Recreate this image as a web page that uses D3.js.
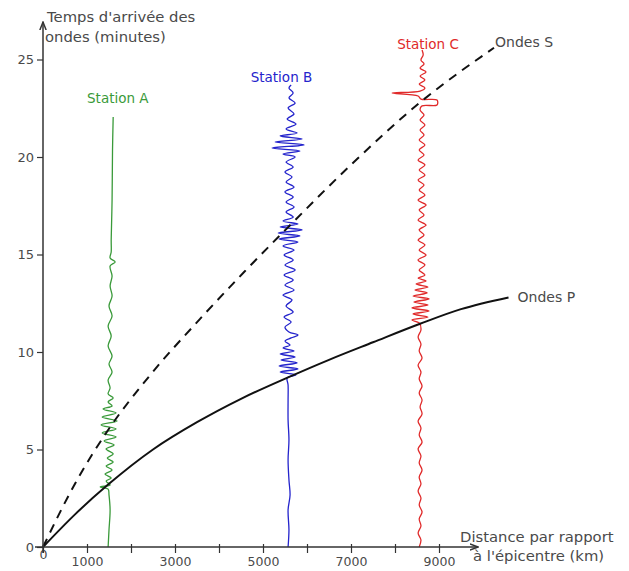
<!DOCTYPE html>
<html><head><meta charset="utf-8">
<script src="https://cdn.jsdelivr.net/npm/d3@7"></script>
<style>
body{margin:0;background:#fff;}
text{font-family:"DejaVu Sans",sans-serif;}
</style></head>
<body><svg id="c" width="629" height="571"></svg>
<script>
// ---- data ----
const yTicks = [0, 5, 10, 15, 20, 25];
const xTicks = [0, 1000, 2000, 3000, 4000, 5000, 6000, 7000, 8000, 9000];
const labelledX = [0, 1000, 3000, 5000, 7000, 9000];

// travel-time curves: [distance km, minutes]
const ondesP = [[0,0],[740,1.7],[1480,3.2],[2500,5.0],[3500,6.4],[4500,7.6],[5570,8.7],[6500,9.6],[7500,10.5],[8570,11.45],[9500,12.2],[10580,12.8]];
const ondesS = [[0,0],[740,3.3],[1480,6.0],[2430,8.8],[3570,11.7],[4570,14.1],[5570,16.4],[7000,19.6],[8570,22.8],[10250,25.6]];

const stations = ["Station A", "Station B", "Station C"];
const stationDist = [1480, 5570, 8570];

// seismograms: [minutes, offset km from station]
const traceA = [[0,0],[0.87,20],[1.9,45],[2.67,20],[2.97,0],[3.08,-180],[3.18,45],[3.38,-45],[3.54,70],[3.74,-70],[3.95,90],[4.15,-45],[4.36,115],[4.56,-20],[4.77,115],[5.03,-45],[5.23,135],[5.44,-90],[5.64,180],[5.85,-135],[6.05,180],[6.26,-160],[6.46,205],[6.67,-135],[6.87,180],[7.08,-115],[7.23,90],[7.44,0],[7.64,115],[7.85,0],[8.15,45],[8.56,0],[8.97,90],[9.38,20],[9.79,90],[10.31,0],[10.82,70],[11.33,0],[11.85,90],[12.36,20],[12.87,90],[13.38,45],[13.9,90],[14.41,45],[14.62,160],[14.82,45],[15.13,70],[15.74,70],[17.79,90],[20.36,100],[22.05,115]];
const traceB = [[0,0],[0.87,20],[1.9,0],[2.67,45],[3.44,20],[4.46,0],[5.49,20],[6.51,0],[7.54,0],[8.31,0],[8.67,-20],[8.82,180],[8.97,-180],[9.13,225],[9.28,-205],[9.44,205],[9.59,-160],[9.74,160],[9.9,-180],[10.05,135],[10.21,-115],[10.36,45],[10.56,-70],[10.72,70],[10.87,225],[11.03,20],[11.28,-70],[11.54,70],[11.79,-90],[12.05,115],[12.36,-45],[12.67,90],[12.92,-115],[13.18,135],[13.44,-70],[13.69,115],[13.95,-90],[14.21,160],[14.46,-70],[14.72,115],[14.97,-90],[15.23,135],[15.44,-115],[15.64,225],[15.79,-205],[15.95,270],[16.1,-225],[16.26,320],[16.41,-180],[16.56,225],[16.72,-115],[16.92,115],[17.18,-45],[17.44,135],[17.69,-45],[17.95,115],[18.21,-70],[18.46,135],[18.72,-45],[18.97,90],[19.23,-70],[19.49,115],[19.74,-45],[20.0,160],[20.15,-115],[20.31,270],[20.46,-365],[20.62,365],[20.77,-295],[20.92,320],[21.08,-180],[21.23,205],[21.44,-45],[21.69,180],[21.95,-20],[22.21,135],[22.51,0],[22.77,160],[23.03,20],[23.28,115],[23.54,20],[23.69,70]];
const traceC = [[0,-20],[0.36,20],[0.72,-45],[1.08,20],[1.44,-20],[1.79,45],[2.15,-20],[2.51,20],[2.87,-45],[3.23,20],[3.59,-20],[3.95,45],[4.31,-20],[4.67,20],[5.03,-45],[5.38,45],[5.74,-20],[6.1,20],[6.46,-45],[6.82,45],[7.18,0],[7.54,45],[7.9,-20],[8.26,45],[8.62,-20],[8.97,20],[9.33,-45],[9.69,45],[10.05,-20],[10.41,20],[10.77,-45],[11.13,20],[11.49,-20],[11.64,-185],[11.79,180],[11.95,-160],[12.1,205],[12.26,-185],[12.41,180],[12.56,-140],[12.72,205],[12.87,-160],[13.03,160],[13.18,-115],[13.33,180],[13.49,-90],[13.64,135],[13.79,-45],[13.95,110],[14.21,-20],[14.46,110],[14.72,-45],[14.97,135],[15.23,-20],[15.49,110],[15.74,-45],[16.0,90],[16.26,-20],[16.51,135],[16.77,-45],[17.03,90],[17.28,-20],[17.54,135],[17.79,-45],[18.05,110],[18.31,-20],[18.56,90],[18.82,-45],[19.08,110],[19.33,-20],[19.59,110],[19.85,-45],[20.1,90],[20.36,-20],[20.62,110],[20.87,-20],[21.13,90],[21.38,0],[21.64,110],[21.9,0],[22.15,90],[22.41,0],[22.62,45],[22.67,385],[22.92,385],[22.97,20],[23.13,-45],[23.28,-635],[23.38,0],[23.54,110],[23.74,-20],[23.95,110],[24.15,0],[24.36,135],[24.56,0],[24.77,90],[24.97,20],[25.23,70],[25.49,45]];
const traces = [traceA, traceB, traceC];
const traceColors = ["#3a9a3a", "#2424cc", "#e02a2a"];

// ---- drawing ----
const svg = d3.select("#c");
const x = d3.scaleLinear().domain([0, 10000]).range([43, 483]);
const y = d3.scaleLinear().domain([0, 25]).range([547, 59.5]);
const axisCol = "#333";
const textCol = "#4a4a4a";

const defs = svg.append("defs");
defs.append("marker").attr("id","arr").attr("viewBox","0 0 10 10").attr("refX",9).attr("refY",5)
  .attr("markerWidth",6).attr("markerHeight",6).attr("orient","auto")
  .append("path").attr("d","M0,1.5 L9,5 L0,8.5").attr("fill","none").attr("stroke",axisCol).attr("stroke-width",1.6);

// traces
const tline = d3.line().x(d => d.x).y(d => d.y).curve(d3.curveCatmullRom.alpha(0.5));
traces.forEach((tr, i) => {
  const pts = tr.map(d => ({x: x(stationDist[i] + d[1]), y: y(d[0])}));
  svg.append("path").attr("d", tline(pts)).attr("fill","none")
    .attr("stroke", traceColors[i]).attr("stroke-width",1.3).attr("stroke-linejoin","round");
});

// curves
const cline = d3.line().x(d => x(d[0])).y(d => y(d[1])).curve(d3.curveMonotoneX);
svg.append("path").attr("d", cline(ondesP)).attr("fill","none").attr("stroke","#111").attr("stroke-width",2);
svg.append("path").attr("d", cline(ondesS)).attr("fill","none").attr("stroke","#111").attr("stroke-width",2)
  .attr("stroke-dasharray","9,7");

// axes
const yAxis = d3.axisLeft(y).tickValues(yTicks).tickSize(6).tickPadding(3);
const gy = svg.append("g").attr("transform",`translate(${x(0)},0)`).call(yAxis);
gy.select(".domain").remove();
gy.selectAll(".tick line").attr("stroke",axisCol).attr("stroke-width",1.2);
gy.selectAll(".tick text").attr("fill",textCol).style("font-size","13px").style("font-family","DejaVu Sans");

const xAxis = d3.axisBottom(x).tickValues(xTicks).tickSize(6).tickPadding(4)
  .tickFormat(d => labelledX.includes(d) ? String(d) : "");
const gx = svg.append("g").attr("transform",`translate(0,${y(0)})`).call(xAxis);
gx.select(".domain").remove();
gx.selectAll(".tick line").attr("stroke",axisCol).attr("stroke-width",1.2).attr("y1",-3);
gx.selectAll(".tick text").attr("fill",textCol).style("font-size","12.5px").style("font-family","DejaVu Sans");
gx.selectAll(".tick").filter(d => d === 0).select("text").attr("y",3);

svg.append("line").attr("x1",x(0)).attr("x2",x(0)).attr("y1",y(0)+6).attr("y2",22)
  .attr("stroke",axisCol).attr("stroke-width",1.5).attr("marker-end","url(#arr)");
svg.append("line").attr("x1",x(0)-8).attr("x2",x(0)+435).attr("y1",y(0)).attr("y2",y(0))
  .attr("stroke",axisCol).attr("stroke-width",1.5).attr("marker-end","url(#arr)");

// titles
const tfs = "14.8px";
svg.append("text").attr("x",47).attr("y",22).attr("fill",textCol).style("font-size",tfs).text("Temps d'arrivée des");
svg.append("text").attr("x",45).attr("y",42).attr("fill",textCol).style("font-size",tfs).text("ondes (minutes)");
svg.append("text").attr("x",460).attr("y",542).attr("fill",textCol).style("font-size",tfs).text("Distance par rapport");
svg.append("text").attr("x",473).attr("y",561).attr("fill",textCol).style("font-size",tfs).text("à l'épicentre (km)");

// station labels
const stLab = [[1700, 103], [5420, 82], [8750, 49]];
stations.forEach((s, i) => {
  svg.append("text").attr("x", x(stLab[i][0])).attr("y", stLab[i][1]).attr("text-anchor","middle")
    .attr("fill", traceColors[i]).style("font-size","13.5px").text(s);
});
svg.append("text").attr("x", x(ondesS[ondesS.length-1][0]) + 1).attr("y", 47).attr("fill",textCol).style("font-size","14px").text("Ondes S");
svg.append("text").attr("x", x(ondesP[ondesP.length-1][0]) + 9).attr("y", y(ondesP[ondesP.length-1][1]) + 5).attr("fill",textCol).style("font-size","14px").text("Ondes P");
</script></body></html>
